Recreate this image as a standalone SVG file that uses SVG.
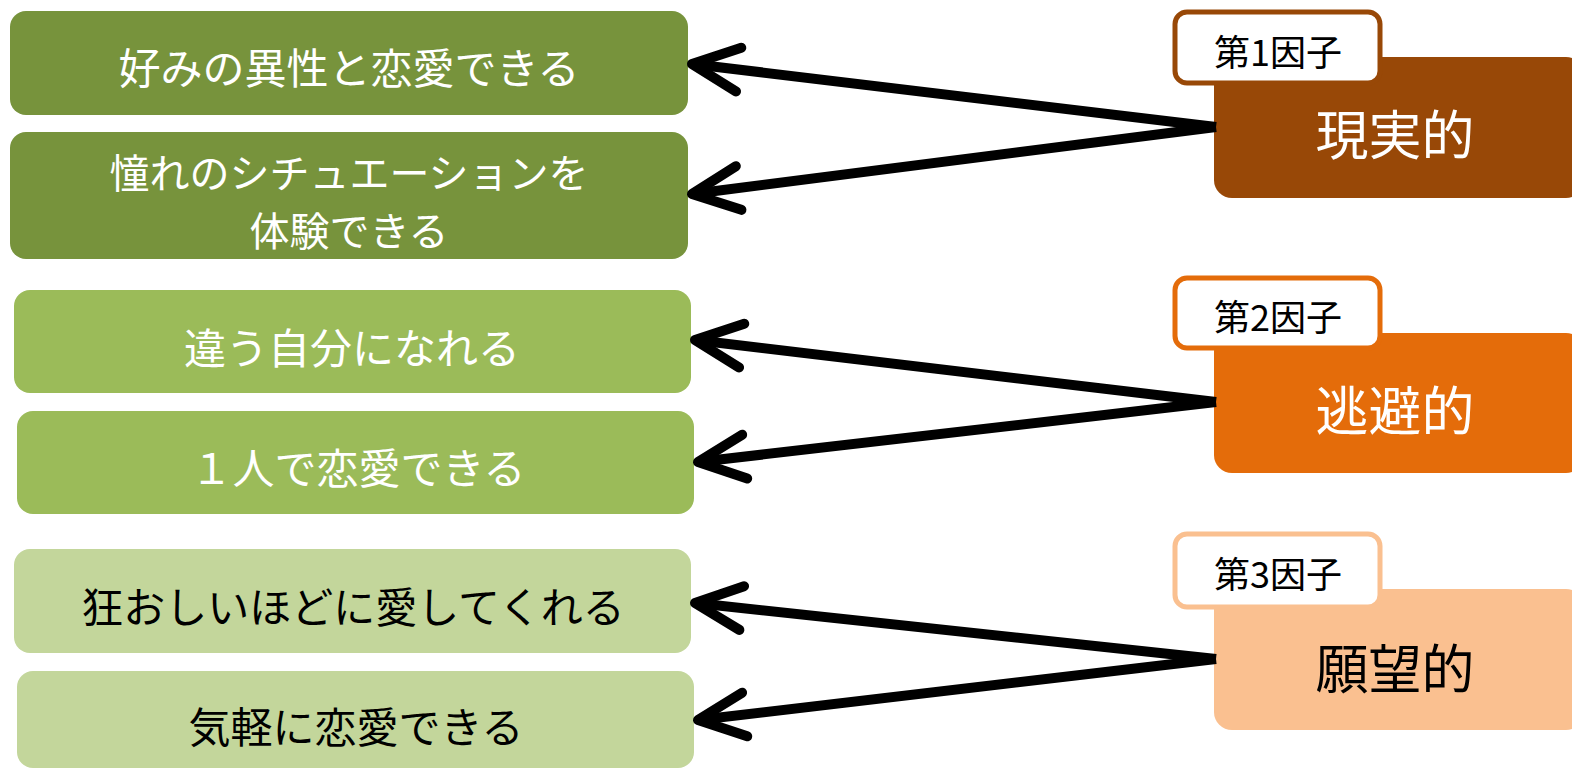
<svg xmlns="http://www.w3.org/2000/svg" width="1572" height="771" viewBox="0 0 1572 771">
<style>
text{font-family:"Noto Sans CJK JP","Noto Sans",sans-serif;text-anchor:middle;dominant-baseline:central}
.item{font-size:42px}
.item2{font-size:40px}
.w{fill:#ffffff}
.k{fill:#000000}
.fac{font-size:53px}
.lab{font-size:36px;fill:#000}
.labbox{fill:#ffffff;stroke-width:5}
.conn{stroke:#000;stroke-width:10;fill:none;marker-end:url(#arr)}
</style>
<defs>
<marker id="arr" markerUnits="userSpaceOnUse" viewBox="-60 -40 80 80" markerWidth="80" markerHeight="80" refX="0" refY="0" orient="auto" overflow="visible">
<path d="M -47 -22 L 0 0 L -47 22" fill="none" stroke="#000" stroke-width="10" stroke-linecap="round" stroke-linejoin="round"/>
</marker>
</defs>
<g id="item1"><rect x="10" y="11" width="678" height="104" rx="16" fill="#77933c"/><text class="item w" x="349" y="65">好みの異性と恋愛できる</text></g>
<g id="item2"><rect x="10" y="132" width="678" height="127" rx="16" fill="#77933c"/><text class="item2 w" x="349" y="171">憧れのシチュエーションを<tspan x="349" dy="58">体験できる</tspan></text></g>
<g id="item3"><rect x="14" y="290" width="677" height="103" rx="16" fill="#9bbb59"/><text class="item w" x="352" y="345">違う自分になれる</text></g>
<g id="item4"><rect x="17" y="411" width="677" height="103" rx="16" fill="#9bbb59"/><text class="item w" x="358" y="465">１人で恋愛できる</text></g>
<g id="item5"><rect x="14" y="549" width="677" height="104" rx="16" fill="#c3d69b"/><text class="item k" x="353" y="604">狂おしいほどに愛してくれる</text></g>
<g id="item6"><rect x="17" y="671" width="677" height="97" rx="16" fill="#c3d69b"/><text class="item k" x="356" y="724">気軽に恋愛できる</text></g>
<g id="factor1"><rect x="1214" y="57" width="370" height="141" rx="18" fill="#984807"/><text class="fac w" x="1395" y="132">現実的</text><rect class="labbox" x="1175" y="12" width="205" height="71" rx="12" stroke="#984807"/><text class="lab" x="1278" y="50">第1因子</text></g>
<g id="factor2"><rect x="1214" y="333" width="370" height="140" rx="18" fill="#e46c0a"/><text class="fac w" x="1395" y="408">逃避的</text><rect class="labbox" x="1175" y="278" width="205" height="70" rx="12" stroke="#e46c0a"/><text class="lab" x="1278" y="315">第2因子</text></g>
<g id="factor3"><rect x="1214" y="589" width="370" height="141" rx="18" fill="#fac090"/><text class="fac k" x="1395" y="666">願望的</text><rect class="labbox" x="1175" y="534" width="205" height="73" rx="12" stroke="#fac090"/><text class="lab" x="1278" y="572">第3因子</text></g>
<g id="connectors">
<path class="conn" d="M1216 127 L692 64"/>
<path class="conn" d="M1216 127 L692 194"/>
<path class="conn" d="M1216 402 L695 340"/>
<path class="conn" d="M1216 402 L698 462"/>
<path class="conn" d="M1216 659 L695 603"/>
<path class="conn" d="M1216 659 L698 720"/>
</g>
</svg>
